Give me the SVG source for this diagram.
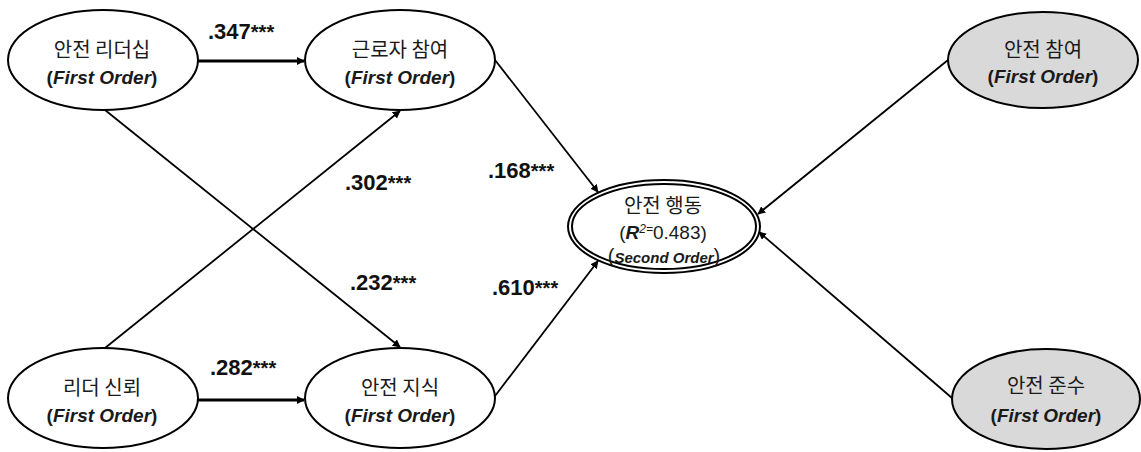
<svg xmlns="http://www.w3.org/2000/svg" width="1141" height="452" viewBox="0 0 1141 452">
  <style>
    .node ellipse { fill: #ffffff; stroke: #000000; stroke-width: 2; }
    .node.shaded ellipse { fill: #d9d9d9; }
    .kr { font-family: "Noto Sans CJK KR", "Noto Sans", sans-serif; font-size: 20px; fill: #1a1a1a; text-anchor: middle; }
    .en { font-family: "Liberation Sans", Arial, sans-serif; font-size: 19px; font-weight: bold; fill: #1a1a1a; text-anchor: middle; }
    .en .it { font-style: italic; }
    .coef { font-family: "Liberation Sans", Arial, sans-serif; font-size: 22px; font-weight: bold; fill: #111111; }
    .coef .st { font-size: 20px; }
    .conn line { stroke: #000000; stroke-width: 1.8; marker-end: url(#arrow); }
    .conn line.thick { stroke-width: 3; }
  </style>
  <defs>
    <marker id="arrow" viewBox="0 0 10 10" refX="9" refY="5" markerWidth="8" markerHeight="8" markerUnits="userSpaceOnUse" orient="auto">
      <path d="M0,0 L10,5 L0,10 z" fill="#000000"/>
    </marker>
  </defs>

  <rect width="1141" height="452" fill="#ffffff"/>

  <!-- connectors -->
  <g id="connectors" class="conn">
    <line class="thick" x1="198" y1="61" x2="304" y2="61"/>
    <line class="thick" x1="198" y1="400" x2="304" y2="400"/>
    <line x1="105" y1="110" x2="400" y2="347"/>
    <line x1="105" y1="348" x2="400" y2="111"/>
    <line x1="495" y1="60" x2="598" y2="192"/>
    <line x1="495" y1="396" x2="598" y2="261"/>
    <line x1="948" y1="60" x2="758" y2="214"/>
    <line x1="952" y1="398" x2="759" y2="232"/>
  </g>

  <!-- path coefficients -->
  <g id="coefficients" class="coef">
    <text x="208" y="39">.347<tspan class="st">***</tspan></text>
    <text x="345" y="190">.302<tspan class="st">***</tspan></text>
    <text x="488" y="178">.168<tspan class="st">***</tspan></text>
    <text x="350" y="290">.232<tspan class="st">***</tspan></text>
    <text x="492" y="295">.610<tspan class="st">***</tspan></text>
    <text x="210" y="375">.282<tspan class="st">***</tspan></text>
  </g>

  <!-- first order constructs -->
  <g id="safety-leadership" class="node">
    <ellipse cx="103" cy="60" rx="95" ry="50"/>
    <text class="kr" x="102" y="57">안전 리더십</text>
    <text class="en" x="102" y="84">(<tspan class="it">First Order</tspan>)</text>
  </g>
  <g id="worker-participation" class="node">
    <ellipse cx="400" cy="60" rx="95" ry="50"/>
    <text class="kr" x="400" y="57">근로자 참여</text>
    <text class="en" x="400" y="84">(<tspan class="it">First Order</tspan>)</text>
  </g>
  <g id="leader-trust" class="node">
    <ellipse cx="103" cy="398" rx="95" ry="50"/>
    <text class="kr" x="102" y="395">리더 신뢰</text>
    <text class="en" x="102" y="422">(<tspan class="it">First Order</tspan>)</text>
  </g>
  <g id="safety-knowledge" class="node">
    <ellipse cx="400" cy="398" rx="95" ry="50"/>
    <text class="kr" x="400" y="395">안전 지식</text>
    <text class="en" x="400" y="422">(<tspan class="it">First Order</tspan>)</text>
  </g>
  <g id="safety-participation" class="node shaded">
    <ellipse cx="1043" cy="60" rx="95" ry="48"/>
    <text class="kr" x="1043" y="57">안전 참여</text>
    <text class="en" x="1043" y="83">(<tspan class="it">First Order</tspan>)</text>
  </g>
  <g id="safety-compliance" class="node shaded">
    <ellipse cx="1046" cy="399" rx="94" ry="50"/>
    <text class="kr" x="1046" y="393">안전 준수</text>
    <text class="en" x="1046" y="422">(<tspan class="it">First Order</tspan>)</text>
  </g>

  <!-- second order construct -->
  <g id="safety-behavior" class="node">
    <ellipse cx="664" cy="226.5" rx="96" ry="46.5"/>
    <ellipse cx="664" cy="226.5" rx="92" ry="42.5" stroke-width="1.6"/>
    <text class="kr" x="663" y="213">안전 행동</text>
    <text x="663" y="239" text-anchor="middle" font-family="Liberation Sans, Arial, sans-serif" font-size="19" fill="#1a1a1a">(<tspan font-weight="bold" font-style="italic">R</tspan><tspan font-size="12" dy="-6" font-style="italic">2=</tspan><tspan dy="6">0.483)</tspan></text>
    <text x="664" y="263" text-anchor="middle" font-family="Liberation Sans, Arial, sans-serif" font-size="20" fill="#1a1a1a">(<tspan font-size="15" font-weight="bold" font-style="italic">Second Order</tspan>)</text>
  </g>
</svg>
